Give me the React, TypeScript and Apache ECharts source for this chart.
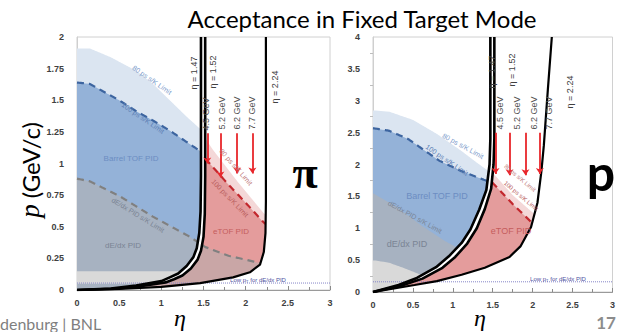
import React, { useEffect, useRef } from "react";
import * as echarts from "echarts";

type Pt = [number, number];

// ---------------- Pion panel (left): eta vs p (GeV/c) ----------------
const piBarrelEdge: Pt[] = [[0, 0], [0.4, 0.012], [0.7, 0.035], [1.0, 0.07], [1.1, 0.1], [1.2, 0.13], [1.3, 0.19], [1.38, 0.26], [1.42, 0.33], [1.45, 0.45], [1.465, 0.62], [1.47, 0.9], [1.47, 2.0]];
const piEtofInner: Pt[] = [[0, 0], [0.45, 0.01], [0.75, 0.03], [1.05, 0.06], [1.15, 0.085], [1.25, 0.115], [1.35, 0.17], [1.43, 0.24], [1.47, 0.31], [1.5, 0.42], [1.515, 0.6], [1.52, 0.9], [1.52, 2.0]];
const piEtofOuter: Pt[] = [[0, 0], [0.5, 0.008], [1.0, 0.025], [1.46, 0.055], [1.85, 0.1], [2.05, 0.14], [2.17, 0.2], [2.215, 0.3], [2.235, 0.45], [2.24, 0.7], [2.24, 2.0]];
const piTof80Barrel: Pt[] = [[0, 1.91], [0.15, 1.91], [0.4, 1.84], [0.71, 1.73], [0.9, 1.63], [1.1, 1.5], [1.3, 1.37], [1.5, 1.25]];
const piTof100Barrel: Pt[] = [[0, 1.64], [0.15, 1.63], [0.31, 1.57], [0.5, 1.5], [0.71, 1.41], [0.9, 1.34], [1.1, 1.26], [1.3, 1.17], [1.5, 1.08]];
const piTof80Etof: Pt[] = [[1.45, 1.27], [1.52, 1.2], [1.61, 1.11], [1.9, 0.86], [2.21, 0.61], [2.3, 0.55]];
const piTof100Etof: Pt[] = [[1.45, 1.09], [1.52, 1.04], [1.8, 0.83], [2.0, 0.69], [2.19, 0.55], [2.3, 0.48]];
const piDedxLimit: Pt[] = [[0, 0.88], [0.15, 0.86], [0.51, 0.74], [0.9, 0.58], [1.34, 0.42], [1.52, 0.34], [1.8, 0.27], [2.0, 0.24], [2.3, 0.19]];
const piLowBand: Pt[] = [[0, 0.15], [3, 0.15]];
const piLowPt = 0.055;
const piArrowEta = [1.545, 1.7, 1.9, 2.08];
const piArrowTop = 1.24;
const piArrowTip = [1.0, 0.89, 0.92, 0.92];

// ---------------- Proton panel (right) ----------------
const prBarrelEdge: Pt[] = [[0, 0], [0.32, 0.11], [0.55, 0.22], [0.79, 0.39], [0.95, 0.56], [1.11, 0.77], [1.22, 0.98], [1.33, 1.29], [1.42, 1.6], [1.46, 2.0], [1.47, 2.4], [1.47, 4]];
const prEtofInner: Pt[] = [[0, 0], [0.36, 0.1], [0.62, 0.21], [0.87, 0.38], [1.03, 0.55], [1.18, 0.76], [1.3, 1.0], [1.4, 1.3], [1.48, 1.62], [1.51, 2.0], [1.52, 2.4], [1.52, 4]];
const prEtofOuter: Pt[] = [[0, 0], [0.52, 0.11], [0.8, 0.17], [1.11, 0.27], [1.4, 0.38], [1.71, 0.55], [1.85, 0.72], [1.98, 1.02], [2.06, 1.4], [2.11, 1.9], [2.14, 2.3], [2.19, 3.17], [2.24, 4]];
const prTof80Barrel: Pt[] = [[0, 2.85], [0.2, 2.83], [0.5, 2.7], [0.8, 2.48], [1.1, 2.22], [1.3, 2.03], [1.5, 1.85]];
const prTof100Barrel: Pt[] = [[0, 2.57], [0.2, 2.53], [0.44, 2.4], [0.83, 2.06], [1.1, 1.9], [1.39, 1.76], [1.5, 1.71]];
const prTof80Etof: Pt[] = [[1.45, 1.93], [1.5, 1.87], [1.75, 1.52], [2.06, 1.18], [2.25, 1.0]];
const prTof100Etof: Pt[] = [[1.45, 1.76], [1.5, 1.71], [1.75, 1.38], [1.98, 1.1], [2.25, 0.8]];
const prDedxLimit: Pt[] = [[0, 1.55], [0.3, 1.33], [0.6, 1.05], [0.9, 0.8], [1.2, 0.6], [1.5, 0.46], [2.0, 0.3]];
const prLowBand: Pt[] = [[0, 0.5], [0.2, 0.46], [0.4, 0.37], [0.6, 0.27], [0.8, 0.2], [1.0, 0.15]];
const prLowPt = 0.16;
const prArrowEta = [1.535, 1.71, 1.91, 2.09];
const prArrowTop = 2.5;
const prArrowTip = [1.85, 1.83, 1.83, 1.85];

const beamLabels = ["4.5 GeV", "5.2 GeV", "6.2 GeV", "7.7 GeV"];

// ---------------- geometry helpers ----------------
function invInc(c: Pt[], p: number): number {
  if (p <= c[0][1]) return c[0][0];
  for (let i = 0; i < c.length - 1; i++) {
    const [e0, p0] = c[i];
    const [e1, p1] = c[i + 1];
    if (p >= p0 && p <= p1) return p1 === p0 ? e1 : e0 + ((e1 - e0) * (p - p0)) / (p1 - p0);
  }
  return c[c.length - 1][0];
}
function etaUnder(u: Pt[], p: number): number {
  if (p > u[0][1]) return -Infinity;
  for (let i = 0; i < u.length - 1; i++) {
    const [e0, p0] = u[i];
    const [e1, p1] = u[i + 1];
    if (p1 < p) return e0 + ((e1 - e0) * (p0 - p)) / (p0 - p1);
  }
  return Infinity;
}
function valAt(u: Pt[], e: number): number {
  for (let i = 0; i < u.length - 1; i++) {
    const [e0, p0] = u[i];
    const [e1, p1] = u[i + 1];
    if (e >= e0 && e <= e1) return p0 + ((p1 - p0) * (e - e0)) / (e1 - e0);
  }
  return u[u.length - 1][1];
}
function region(u: Pt[], left: Pt[] | null, right: Pt[], pLow: number, pHigh: number): Pt[] {
  const L: Pt[] = [];
  const R: Pt[] = [];
  const n = 600;
  for (let k = 0; k <= n; k++) {
    const p = pLow + ((pHigh - pLow) * k) / n;
    const l = left ? invInc(left, p) : 0;
    const r = Math.min(invInc(right, p), etaUnder(u, p));
    if (r > l) {
      L.push([l, p]);
      R.push([r, p]);
    }
  }
  return L.concat(R.reverse());
}
function clipLine(u: Pt[], left: Pt[] | null, right: Pt[]): Pt[] {
  const out: Pt[] = [];
  const e0 = u[0][0];
  const e1 = u[u.length - 1][0];
  for (let e = e0; e <= e1 + 1e-9; e += 0.004) {
    const p = valAt(u, e);
    const l = left ? invInc(left, p) : 0;
    const r = invInc(right, p);
    if (e >= l && e <= r) out.push([e, p]);
  }
  return out;
}

const poly = (pts: Pt[], fill: string, gi: number) => ({
  type: "custom",
  xAxisIndex: gi,
  yAxisIndex: gi,
  silent: true,
  data: [[0, 0]],
  renderItem: (_p: any, api: any) => ({
    type: "polygon",
    shape: { points: pts.map((pt) => api.coord(pt)) },
    style: { fill, stroke: "none" },
  }),
});
const line = (pts: Pt[], color: string, width: number, gi: number, type: any = "solid") => ({
  type: "line",
  xAxisIndex: gi,
  yAxisIndex: gi,
  data: pts,
  symbol: "none",
  silent: true,
  lineStyle: { color, width, type },
});
const arrows = (etas: number[], top: number, tips: number[], gi: number) => ({
  type: "line",
  xAxisIndex: gi,
  yAxisIndex: gi,
  data: [],
  symbol: "none",
  markLine: {
    silent: true,
    symbol: ["none", "arrow"],
    symbolSize: 6,
    lineStyle: { color: "#e8262b", width: 1.8, type: "solid" },
    label: { show: false },
    data: etas.map((e, i) => [{ coord: [e, top] }, { coord: [e, tips[i]] }]),
  },
});

const txt = (text: string, x: number, y: number, font: string, fill: string, rot = 0, extra: any = {}) => ({
  type: "text",
  x,
  y,
  rotation: rot,
  silent: true,
  z: 100,
  style: { text, font, fill, align: "center", verticalAlign: "middle", textAlign: "center", textVerticalAlign: "middle", ...extra },
});

const LBL = '"Liberation Sans"';
const R90 = Math.PI / 2;

export default function App() {
  const ref = useRef<HTMLDivElement>(null);
  useEffect(() => {
    const chart = echarts.init(ref.current!, null, { renderer: "svg" });
    const xAx = (gi: number) => ({
      gridIndex: gi,
      type: "value",
      min: 0,
      max: 3,
      interval: 0.5,
      axisLine: { show: true, onZero: false, lineStyle: { color: "#9a9a9a", width: 1 } },
      axisTick: { show: true, inside: true, length: 4, lineStyle: { color: "#8a8a8a" } },
      minorTick: { show: true, splitNumber: 2, length: 3, lineStyle: { color: "#8a8a8a" } },
      splitLine: { show: false },
      axisLabel: { fontSize: 9, fontWeight: "bold", color: "#404040", margin: 8, fontFamily: "Liberation Sans" },
    });
    const yAx = (gi: number, max: number, interval: number) => ({
      gridIndex: gi,
      type: "value",
      min: 0,
      max,
      interval,
      axisLine: { show: true, lineStyle: { color: "#cfcfcf" } },
      axisTick: { show: false },
      minorTick: { show: gi === 1, splitNumber: 2, length: 3, lineStyle: { color: "#bdbdbd" } },
      splitLine: { show: false },
      axisLabel: { fontSize: 9, fontWeight: "bold", color: "#404040", margin: 13, fontFamily: "Liberation Sans" },
    });

    const series: any[] = [
      // Pion panel
      line([[0, piLowPt], [3, piLowPt]], "#8585c8", 1, 0, "dotted"),
      poly(region(piTof80Barrel, null, piBarrelEdge, 0, 2), "#dbe5f1", 0),
      poly(region(piTof100Barrel, null, piBarrelEdge, 0, 2), "#94b2d8", 0),
      poly(region(piDedxLimit, null, piBarrelEdge, 0, 2), "#a7b2c1", 0),
      poly(region(piLowBand, null, piBarrelEdge, 0.05, 2), "#d9d9d9", 0),
      poly(region(piTof80Etof, piEtofInner, piEtofOuter, 0, 2), "#f4d8d8", 0),
      poly(region(piTof100Etof, piEtofInner, piEtofOuter, 0, 2), "#e49c9c", 0),
      poly(region(piDedxLimit, piEtofInner, piEtofOuter, 0, 2), "#c9a6a6", 0),
      line(clipLine(piTof100Barrel, null, piBarrelEdge), "#3d65a0", 2.2, 0, [7, 5]),
      line(clipLine(piTof100Etof, piEtofInner, piEtofOuter), "#c2272d", 2.2, 0, [7, 5]),
      line(clipLine(piDedxLimit, null, piBarrelEdge), "#808080", 2.2, 0, [7, 5]),
      line(clipLine(piDedxLimit, piEtofInner, piEtofOuter), "#808080", 2.2, 0, [7, 5]),
      line(piBarrelEdge, "#000000", 2.6, 0),
      line(piEtofInner, "#000000", 2.6, 0),
      line(piEtofOuter, "#000000", 2.2, 0),
      arrows(piArrowEta, piArrowTop, piArrowTip, 0),
      // Proton panel
      line([[0, prLowPt], [3, prLowPt]], "#8585c8", 1, 1, "dotted"),
      poly(region(prTof80Barrel, null, prBarrelEdge, 0, 4), "#dbe5f1", 1),
      poly(region(prTof100Barrel, null, prBarrelEdge, 0, 4), "#94b2d8", 1),
      poly(region(prDedxLimit, null, prBarrelEdge, 0, 4), "#a7b2c1", 1),
      poly(region(prLowBand, null, prBarrelEdge, 0, 4), "#d9d9d9", 1),
      poly(region(prTof80Etof, prEtofInner, prEtofOuter, 0, 4), "#f4d8d8", 1),
      poly(region(prTof100Etof, prEtofInner, prEtofOuter, 0, 4), "#e49c9c", 1),
      line(clipLine(prTof100Barrel, null, prBarrelEdge), "#3d65a0", 2.2, 1, [7, 5]),
      line(clipLine(prTof100Etof, prEtofInner, prEtofOuter), "#c2272d", 2.2, 1, [7, 5]),
      line(prBarrelEdge, "#000000", 2.6, 1),
      line(prEtofInner, "#000000", 2.6, 1),
      line(prEtofOuter, "#000000", 2.2, 1),
      arrows(prArrowEta, prArrowTop, prArrowTip, 1),
    ];

    const small = (n: number) => `${n}px ${LBL}`;
    const graphic: any[] = [
      txt("Acceptance in Fixed Target Mode", 362, 18, "24px Lato", "#000000"),
      txt("{i|p} (GeV/c)", 30, 170, "24px Lato", "#000000", R90, {
        rich: { i: { font: 'italic 27px "Liberation Serif"', fill: "#000000" } },
      }),
      txt("η", 180, 318, 'italic 24px "Liberation Serif"', "#000000"),
      txt("η", 480, 318, 'italic 24px "Liberation Serif"', "#000000"),
      txt("π", 305, 172, 'bold 46px "Liberation Serif"', "#000000"),
      txt("p", 601, 172, "bold 50px Lato", "#000000"),
      { type: "text", x: 0, y: 323, silent: true, z: 100, style: { text: "denburg | BNL", font: "16px Lato", fill: "#7f7f7f", align: "left", verticalAlign: "middle", textAlign: "left", textVerticalAlign: "middle" } },
      txt("17", 606, 322, "bold 17px Lato", "#8c8c8c"),
      // pion panel labels
      txt("η = 1.47", 194, 73, small(9), "#404040", R90),
      txt("η = 1.52", 213, 72, small(9), "#404040", R90),
      txt("η = 2.24", 275, 87, small(9), "#404040", R90),
      txt(beamLabels[0], 206, 114, small(9), "#505050", R90),
      txt(beamLabels[1], 222, 113, small(9), "#505050", R90),
      txt(beamLabels[2], 237, 113, small(9), "#505050", R90),
      txt(beamLabels[3], 252, 113, small(9), "#505050", R90),
      txt("80 ps s/K Limit", 152, 80, small(7), "#7d9ccb", -0.6),
      txt("100 ps s/K Limit", 143, 118, small(7), "#5d80b5", -0.6),
      txt("Barrel TOF PID", 131, 158, small(8), "#6c8dc2"),
      txt("dE/dx PID s/K Limit", 138, 215, small(7), "#7a8494", -0.55),
      txt("dE/dx PID", 123, 245, small(8), "#7a8494"),
      txt("eTOF PID", 231, 231, small(8), "#c45c5c"),
      txt("100 ps s/K Limit", 230, 198, small(7), "#b85c5c", -0.8),
      txt("80 ps s/K Limit", 236, 167, small(7), "#c07878", -0.85),
      txt("Low p{s|T} for dE/dx PID", 258, 280, small(6), "#5050a0", 0, { rich: { s: { font: small(4), fill: "#5050a0", verticalAlign: "bottom" } } }),
      // proton panel labels
      txt("η = 1.47", 492, 72, small(9), "#404040", R90),
      txt("η = 1.52", 512, 70, small(9), "#404040", R90),
      txt("η = 2.24", 570, 92, small(9), "#404040", R90),
      txt(beamLabels[0], 500, 113, small(9), "#505050", R90),
      txt(beamLabels[1], 517, 113, small(9), "#505050", R90),
      txt(beamLabels[2], 534, 113, small(9), "#505050", R90),
      txt(beamLabels[3], 549, 113, small(9), "#505050", R90),
      txt("80 ps s/K Limit", 463, 146, small(7), "#7d9ccb", -0.5),
      txt("100 ps s/K Limit", 447, 160, small(7), "#5d80b5", -0.6),
      txt("Barrel TOF PID", 437, 196, small(9), "#6c8dc2"),
      txt("dE/dx PID s/K Limit", 415, 217, small(7), "#7a8494", -0.5),
      txt("dE/dx PID", 407, 244, small(9), "#7a8494"),
      txt("eTOF PID", 511, 231, small(9), "#c45c5c"),
      txt("80 ps s/K Limit", 520, 178, small(6), "#c07878", -0.7),
      txt("100 ps s/K Limit", 521, 196, small(6), "#b85c5c", -0.7),
      txt("Low p{s|T} for dE/dx PID", 558, 279, small(6), "#5050a0", 0, { rich: { s: { font: small(4), fill: "#5050a0", verticalAlign: "bottom" } } }),
    ];

    chart.setOption({
      animation: false,
      backgroundColor: "#ffffff",
      grid: [
        { left: 77, top: 37, width: 253, height: 253, show: true, borderColor: "#d0d0d0", borderWidth: 1, backgroundColor: "transparent" },
        { left: 373, top: 37, width: 253, height: 255, show: true, borderColor: "#d0d0d0", borderWidth: 1, backgroundColor: "transparent" },
      ],
      xAxis: [xAx(0), xAx(1)],
      yAxis: [yAx(0, 2, 0.25), yAx(1, 4, 0.5)],
      series,
      graphic,
    });
    return () => chart.dispose();
  }, []);
  return (
    <div
      ref={ref}
      style={{ position: "fixed", left: 0, top: 0, width: 618, height: 332, background: "#ffffff" }}
    />
  );
}
